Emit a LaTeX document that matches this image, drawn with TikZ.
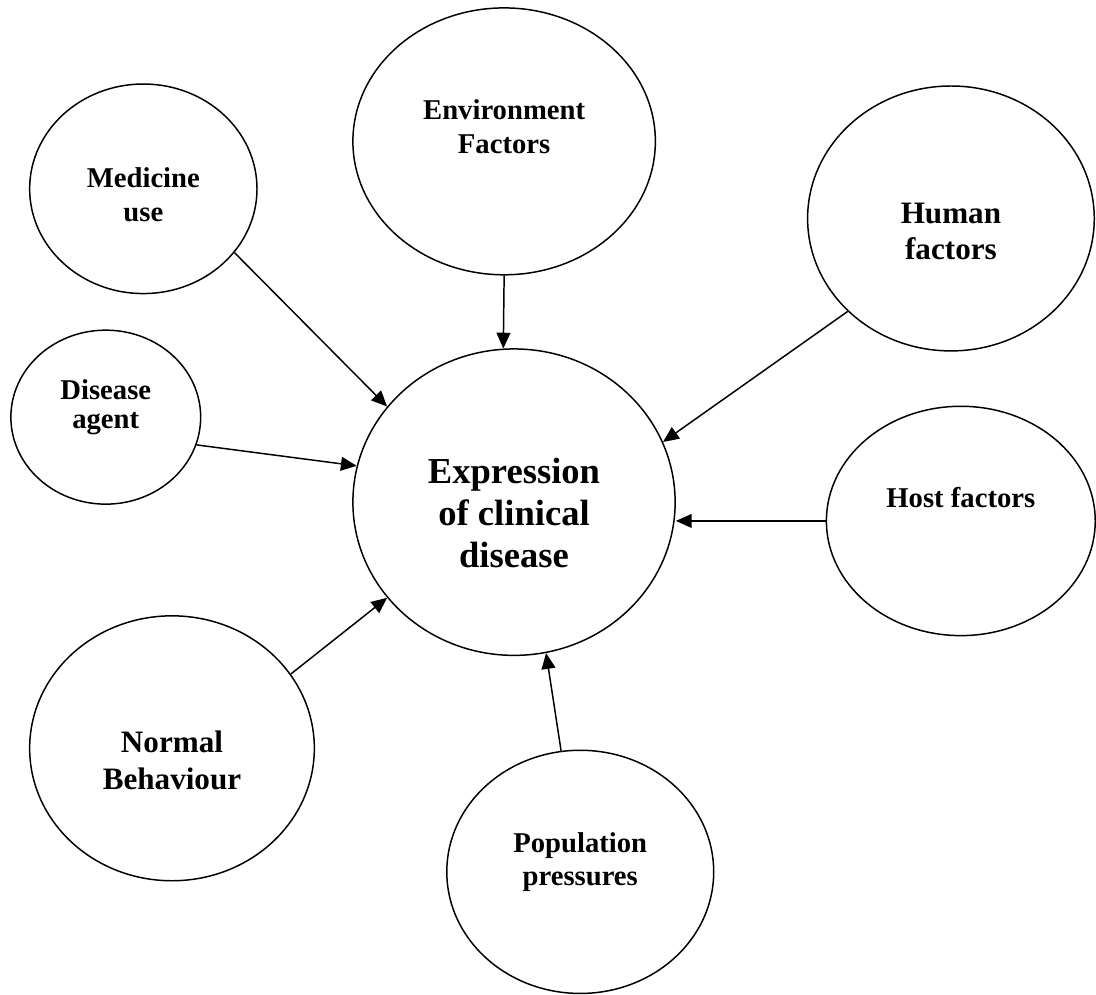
\documentclass[tikz,border=0pt]{standalone}
\usepackage{fontspec}
\setmainfont{Liberation Serif}
\usetikzlibrary{arrows.meta,shapes.geometric}

\begin{document}
\begin{tikzpicture}[
  x=1pt,y=-1pt,
  blob/.style={draw,ellipse,line width=1.5pt,inner sep=0pt},
  txt/.style={font=\fontsize{29}{34}\selectfont\bfseries,align=center},
  mid/.style={font=\fontsize{31.5}{37}\selectfont\bfseries,align=center},
  big/.style={font=\fontsize{37}{42.5}\selectfont\bfseries,align=center},
  arr/.style={-{Triangle[length=16pt,width=14pt]},line width=1.5pt}
]
\fill[white] (0,0) rectangle (1096,1004);
\node[blob,minimum width=326pt,minimum height=310pt,label={[big,yshift=-11pt]center:Expression\\of clinical\\disease}] (cen) at (520,508) {};
\node[blob,minimum width=306pt,minimum height=270pt,label={[txt,yshift=15pt]center:Environment\\Factors}] (env) at (510,143) {};
\node[blob,minimum width=230pt,minimum height=212pt,label={[txt,yshift=-6pt]center:Medicine\\use}] (med) at (145,191) {};
\node[blob,minimum width=192pt,minimum height=176pt,label={[txt,font=\fontsize{29}{29}\selectfont\bfseries,yshift=10pt]center:Disease\\agent}] (dis) at (107,422) {};
\node[blob,minimum width=290pt,minimum height=268pt,label={[mid,yshift=-13pt]center:Human\\factors}] (hum) at (962,221) {};
\node[blob,minimum width=272pt,minimum height=232pt,label={[txt,yshift=24pt]center:Host factors}] (host) at (972,527) {};
\node[blob,minimum width=288pt,minimum height=268pt,label={[mid,yshift=-12pt]center:Normal\\Behaviour}] (nor) at (174,757) {};
\node[blob,minimum width=270pt,minimum height=246pt,label={[txt,yshift=10pt]center:Population\\pressures}] (pop) at (587,882) {};
\draw[arr] (med.-35) -- (cen.143);
\draw[arr] (env.south) -- (cen.94);
\draw[arr] (hum.222) -- (cen.22.5);
\draw[arr] (dis.-17) -- (cen.167);
\draw[arr] (host.west) -- (host.west -| cen.east);
\draw[arr] (nor.32) -- (cen.217);
\draw[arr] (pop.99) -- (cen.-78);
\end{tikzpicture}
\end{document}
